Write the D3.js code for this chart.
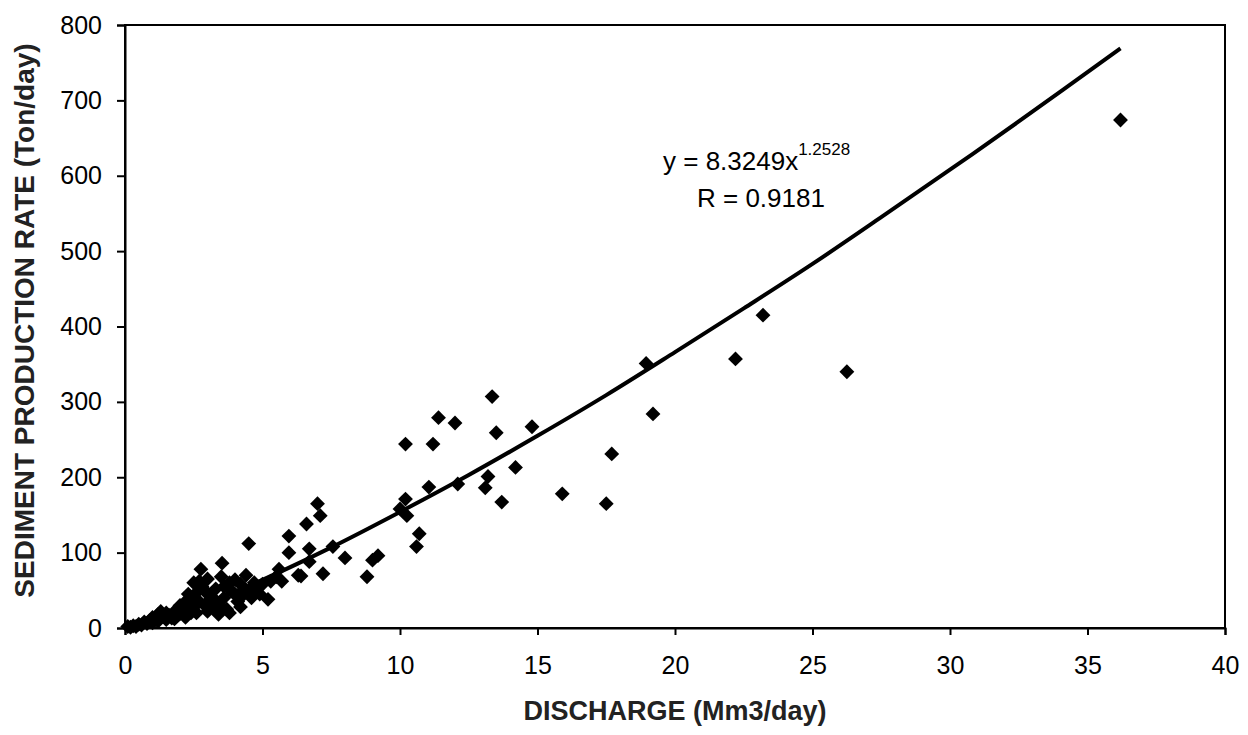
<!DOCTYPE html>
<html>
<head>
<meta charset="utf-8">
<script src="https://cdn.jsdelivr.net/npm/d3@7"></script>
<style>
  body { margin: 0; background: #fff; }
  svg { display: block; font-family: Arial, "Liberation Sans", sans-serif; }
</style>
</head>
<body>
<div id="chart"></div>
<script>
// Observed discharge (Mm3/day) and sediment production rate (Ton/day)
const discharge = [
  0.1, 0.2, 0.3, 0.4, 0.5, 0.6, 0.7, 0.8, 0.9, 1.0, 1.0, 1.1, 1.2, 1.2, 1.3, 1.4, 1.5, 1.5, 1.6, 1.7,
  1.8, 1.9, 2.0, 2.1, 2.2, 2.3, 2.4, 2.5, 2.5, 2.6, 2.6, 2.7, 2.76, 2.8, 2.9, 3.0, 3.0, 3.1, 3.2, 3.3,
  3.4, 3.5, 3.53, 3.6, 3.7, 3.8, 3.9, 4.0, 4.1, 4.2, 4.3, 4.4, 4.5, 4.6, 4.7, 4.8, 5.0, 5.2, 5.3, 5.5,
  5.6, 5.7, 5.96, 5.96, 6.3, 6.4, 6.6, 6.7, 6.7, 7.0, 7.1, 7.2, 7.56, 8.0, 8.8, 9.0, 9.2,
  1.8, 2.0, 2.2, 2.3, 2.5, 2.7, 2.9, 3.0, 3.2, 3.4, 3.6, 3.8, 4.0, 4.2, 4.5, 4.9,
  10.0, 10.2, 10.2, 10.25, 10.6, 10.7, 11.05, 11.2, 11.4, 12.0, 12.1, 13.1, 13.2, 13.35, 13.5, 13.7,
  14.2, 14.8, 15.9, 17.5, 17.7, 18.95, 19.2, 22.2, 23.2, 26.25, 36.2
];
const sediment = [
  2, 1, 3, 2, 5, 4, 8, 6, 10, 7, 14, 12, 18, 9, 22, 15, 11, 20, 17, 13,
  22, 16, 19, 25, 14, 30, 20, 42, 60, 47, 20, 35, 78, 55, 30, 45, 22, 38, 28, 52,
  18, 68, 86, 40, 25, 60, 48, 64, 35, 58, 44, 70, 112, 40, 60, 48, 58, 38, 62, 68,
  78, 62, 100, 122, 70, 69, 138, 105, 88, 165, 149, 72, 108, 93, 68, 90, 96,
  12, 30, 35, 45, 28, 62, 50, 65, 40, 30, 55, 20, 45, 28, 50, 45,
  158, 244, 171, 149, 108, 125, 187, 244, 279, 272, 191, 186, 201, 307, 259, 167,
  213, 267, 178, 165, 231, 351, 284, 357, 415, 340, 674
];

// Power trend line as drawn (y = 8.3249x^1.2528)
const trendX = [0, 2.5, 5, 7.5, 10, 12.5, 15, 17.5, 20, 22.5, 25, 27.5, 30, 32.5, 36.2];
const trendY = [0, 27, 64, 107, 154, 203, 255, 309, 366, 424, 483, 545, 608, 672, 769];

const xTicks = [0, 5, 10, 15, 20, 25, 30, 35, 40];
const yTicks = [0, 100, 200, 300, 400, 500, 600, 700, 800];

const W = 1248, H = 735;
const margin = {top: 25, right: 23, bottom: 107, left: 125};

const svg = d3.select("#chart").append("svg")
  .attr("width", W)
  .attr("height", H);

const x = d3.scaleLinear()
  .domain([0, 40])
  .range([margin.left, W - margin.right]);

const y = d3.scaleLinear()
  .domain([0, 800])
  .range([H - margin.bottom, margin.top]);

// plot frame
svg.append("rect")
  .attr("x", x(0))
  .attr("y", y(800))
  .attr("width", x(40) - x(0))
  .attr("height", y(0) - y(800))
  .attr("fill", "none")
  .attr("stroke", "#000")
  .attr("stroke-width", 2);

// axes
const xAxis = svg.append("g")
  .attr("transform", `translate(0,${y(0)})`)
  .call(d3.axisBottom(x).tickValues(xTicks).tickSize(7).tickFormat(d3.format("d")));

const yAxis = svg.append("g")
  .attr("transform", `translate(${x(0)},0)`)
  .call(d3.axisLeft(y).tickValues(yTicks).tickSize(8).tickFormat(d3.format("d")));

[xAxis, yAxis].forEach(g => {
  g.select(".domain").attr("stroke-width", 2);
  g.selectAll(".tick line").attr("stroke-width", 2);
  g.selectAll(".tick text")
    .attr("font-size", "25px")
    .attr("font-family", "Arial, 'Liberation Sans', sans-serif")
    .attr("fill", "#000");
});
xAxis.selectAll(".tick text").attr("y", 28);
yAxis.selectAll(".tick text").attr("x", -23);

// trend line
const trend = trendX.map((v, i) => [v, trendY[i]]);
svg.append("path")
  .datum(trend)
  .attr("fill", "none")
  .attr("stroke", "#000")
  .attr("stroke-width", 4)
  .attr("d", d3.line()
    .x(d => x(d[0]))
    .y(d => y(d[1]))
    .curve(d3.curveCatmullRom));

// data points, black diamonds
const points = discharge.map((v, i) => [v, sediment[i]]);
const diamond = d3.symbol().type(d3.symbolSquare).size(110);
svg.append("g")
  .selectAll("path")
  .data(points)
  .enter()
  .append("path")
  .attr("d", diamond)
  .attr("transform", d => `translate(${x(d[0])},${y(d[1])}) rotate(45)`)
  .attr("fill", "#000");

// equation label
const eq = svg.append("text")
  .attr("x", 663)
  .attr("y", 170)
  .attr("font-size", "26px")
  .attr("fill", "#000");
eq.append("tspan").text("y = 8.3249x");
eq.append("tspan")
  .attr("font-size", "17px")
  .attr("dy", -15)
  .text("1.2528");

svg.append("text")
  .attr("x", 697)
  .attr("y", 207)
  .attr("font-size", "26px")
  .attr("fill", "#000")
  .text("R = 0.9181");

// axis titles
svg.append("text")
  .attr("x", (x(0) + x(40)) / 2)
  .attr("y", 720)
  .attr("text-anchor", "middle")
  .attr("font-size", "27px")
  .attr("font-weight", "bold")
  .attr("fill", "#222")
  .text("DISCHARGE (Mm3/day)");

svg.append("text")
  .attr("transform", `translate(34,${(y(0) + y(800)) / 2 - 6}) rotate(-90)`)
  .attr("text-anchor", "middle")
  .attr("font-size", "28px")
  .attr("font-weight", "bold")
  .attr("fill", "#222")
  .text("SEDIMENT PRODUCTION RATE (Ton/day)");
</script>
</body>
</html>
